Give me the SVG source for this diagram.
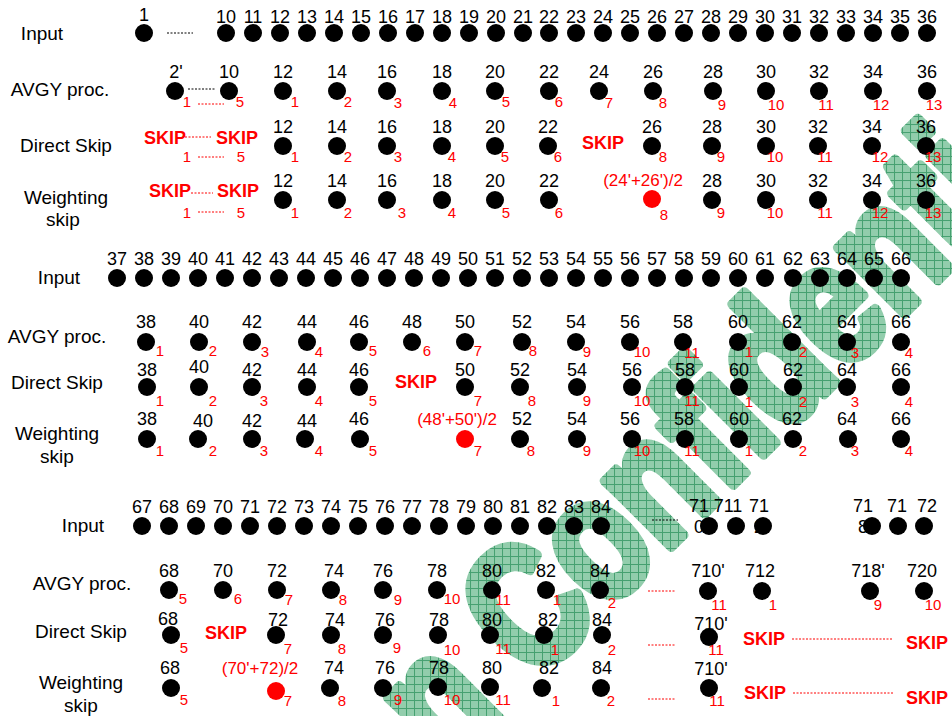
<svg xmlns="http://www.w3.org/2000/svg" width="952" height="716" viewBox="0 0 952 716">
<style>
text{font-family:"Liberation Sans",Arial,sans-serif}
.l{font-size:19px;fill:#000;text-anchor:middle}
.n{font-size:18px;fill:#000;text-anchor:middle}
.s{font-size:15px;fill:#f00;text-anchor:middle}
.k{font-size:18px;font-weight:bold;fill:#f00;text-anchor:middle}
.f{font-size:17px;fill:#f00;text-anchor:middle}
.d{fill:#000}
.r{fill:#f00}
.bl{stroke:#000;stroke-width:1;stroke-dasharray:2 1.5;fill:none}
.rl{stroke:#f00;stroke-width:1;stroke-dasharray:2 1.5;fill:none}
.wm{font-size:138px;font-weight:bold;fill:url(#hatch);stroke:url(#hatch);stroke-width:8;stroke-linejoin:round}
</style>
<defs>
<pattern id="hatch" width="8" height="8" patternUnits="userSpaceOnUse" patternTransform="scale(1,0.781) rotate(45)">
<rect width="8" height="8" fill="#92cdac"/>
<path d="M0 0.5H8M0.5 0V8" stroke="#45a070" stroke-width="1"/>
</pattern>
</defs>
<rect width="952" height="716" fill="#fff"/>
<g id="watermark" transform="translate(534,684) rotate(-45) scale(1,1.28)"><text class="wm" x="-123" y="0">n Confidential</text></g>

<g id="labels">
<text class="l" x="42" y="40">Input</text>
<text class="l" x="60" y="96">AVGY proc.</text>
<text class="l" x="66" y="152">Direct Skip</text>
<text class="l" x="66" y="204">Weighting</text>
<text class="l" x="63" y="226">skip</text>
<text class="l" x="59" y="284">Input</text>
<text class="l" x="57" y="343">AVGY proc.</text>
<text class="l" x="57" y="389">Direct Skip</text>
<text class="l" x="57" y="440">Weighting</text>
<text class="l" x="57" y="463">skip</text>
<text class="l" x="83" y="532">Input</text>
<text class="l" x="82" y="590">AVGY proc.</text>
<text class="l" x="81" y="638">Direct Skip</text>
<text class="l" x="81" y="689">Weighting</text>
<text class="l" x="81" y="712">skip</text>
</g>

<g id="connectors">
<path class="bl" d="M167 33H193"/>
<path class="bl" d="M188 89H215"/>
<path class="rl" d="M198 104H224"/>
<path class="rl" d="M185 137H211"/>
<path class="rl" d="M198 157H224"/>
<path class="rl" d="M191 193H213"/>
<path class="rl" d="M198 212H224"/>
<path class="bl" d="M652 520H678"/>
<path class="rl" d="M648 591H675"/>
<path class="rl" d="M648 645H675"/>
<path class="rl" d="M648 699H675"/>
<path class="rl" d="M792 639H893"/>
<path class="rl" d="M793 693H894"/>
</g>

<g id="input1">
<text class="n" x="144" y="21">1</text><circle class="d" cx="144" cy="33" r="9"/>
<text class="n" x="226" y="23">10</text><circle class="d" cx="226" cy="33" r="9"/>
<text class="n" x="253" y="23">11</text><circle class="d" cx="253" cy="33" r="9"/>
<text class="n" x="280" y="23">12</text><circle class="d" cx="280" cy="33" r="9"/>
<text class="n" x="307" y="23">13</text><circle class="d" cx="307" cy="33" r="9"/>
<text class="n" x="334" y="23">14</text><circle class="d" cx="334" cy="33" r="9"/>
<text class="n" x="361" y="23">15</text><circle class="d" cx="361" cy="33" r="9"/>
<text class="n" x="388" y="23">16</text><circle class="d" cx="388" cy="33" r="9"/>
<text class="n" x="415" y="23">17</text><circle class="d" cx="415" cy="33" r="9"/>
<text class="n" x="442" y="23">18</text><circle class="d" cx="442" cy="33" r="9"/>
<text class="n" x="469" y="23">19</text><circle class="d" cx="469" cy="33" r="9"/>
<text class="n" x="496" y="23">20</text><circle class="d" cx="496" cy="33" r="9"/>
<text class="n" x="523" y="23">21</text><circle class="d" cx="523" cy="33" r="9"/>
<text class="n" x="549" y="23">22</text><circle class="d" cx="549" cy="33" r="9"/>
<text class="n" x="576" y="23">23</text><circle class="d" cx="576" cy="33" r="9"/>
<text class="n" x="603" y="23">24</text><circle class="d" cx="603" cy="33" r="9"/>
<text class="n" x="630" y="23">25</text><circle class="d" cx="630" cy="33" r="9"/>
<text class="n" x="657" y="23">26</text><circle class="d" cx="657" cy="33" r="9"/>
<text class="n" x="684" y="23">27</text><circle class="d" cx="684" cy="33" r="9"/>
<text class="n" x="711" y="23">28</text><circle class="d" cx="711" cy="33" r="9"/>
<text class="n" x="738" y="23">29</text><circle class="d" cx="738" cy="33" r="9"/>
<text class="n" x="765" y="23">30</text><circle class="d" cx="765" cy="33" r="9"/>
<text class="n" x="792" y="23">31</text><circle class="d" cx="792" cy="33" r="9"/>
<text class="n" x="819" y="23">32</text><circle class="d" cx="819" cy="33" r="9"/>
<text class="n" x="846" y="23">33</text><circle class="d" cx="846" cy="33" r="9"/>
<text class="n" x="873" y="23">34</text><circle class="d" cx="873" cy="33" r="9"/>
<text class="n" x="900" y="23">35</text><circle class="d" cx="900" cy="33" r="9"/>
<text class="n" x="927" y="23">36</text><circle class="d" cx="927" cy="33" r="9"/>
</g>

<g id="avgy1">
<text class="n" x="176" y="78">2'</text><circle class="d" cx="175" cy="91" r="9"/><text class="s" x="187" y="107">1</text>
<text class="n" x="229" y="78">10</text><circle class="d" cx="229" cy="91" r="9"/><text class="s" x="240" y="107">5</text>
<text class="n" x="283" y="78">12</text><circle class="d" cx="283" cy="91" r="9"/><text class="s" x="295" y="107">1</text>
<text class="n" x="337" y="78">14</text><circle class="d" cx="337" cy="91" r="9"/><text class="s" x="348" y="107">2</text>
<text class="n" x="387" y="78">16</text><circle class="d" cx="387" cy="91" r="9"/><text class="s" x="398" y="108">3</text>
<text class="n" x="442" y="78">18</text><circle class="d" cx="442" cy="91" r="9"/><text class="s" x="453" y="108">4</text>
<text class="n" x="495" y="78">20</text><circle class="d" cx="495" cy="91" r="9"/><text class="s" x="506" y="107">5</text>
<text class="n" x="549" y="78">22</text><circle class="d" cx="549" cy="91" r="9"/><text class="s" x="559" y="107">6</text>
<text class="n" x="599" y="78">24</text><circle class="d" cx="599" cy="91" r="9"/><text class="s" x="609" y="108">7</text>
<text class="n" x="653" y="78">26</text><circle class="d" cx="653" cy="91" r="9"/><text class="s" x="663" y="108">8</text>
<text class="n" x="713" y="78">28</text><circle class="d" cx="713" cy="91" r="9"/><text class="s" x="722" y="110">9</text>
<text class="n" x="766" y="78">30</text><circle class="d" cx="766" cy="91" r="9"/><text class="s" x="776" y="110">10</text>
<text class="n" x="819" y="78">32</text><circle class="d" cx="819" cy="91" r="9"/><text class="s" x="826" y="110">11</text>
<text class="n" x="873" y="78">34</text><circle class="d" cx="873" cy="91" r="9"/><text class="s" x="881" y="110">12</text>
<text class="n" x="927" y="78">36</text><circle class="d" cx="927" cy="91" r="9"/><text class="s" x="934" y="110">13</text>
</g>

<g id="direct1">
<text class="k" x="165" y="144">SKIP</text><text class="k" x="237" y="144">SKIP</text>
<text class="s" x="187" y="162">1</text><text class="s" x="241" y="162">5</text>
<text class="n" x="283" y="133">12</text><circle class="d" cx="283" cy="146" r="9"/><text class="s" x="295" y="162">1</text>
<text class="n" x="337" y="133">14</text><circle class="d" cx="337" cy="146" r="9"/><text class="s" x="348" y="162">2</text>
<text class="n" x="387" y="133">16</text><circle class="d" cx="387" cy="146" r="9"/><text class="s" x="398" y="162">3</text>
<text class="n" x="442" y="133">18</text><circle class="d" cx="442" cy="146" r="9"/><text class="s" x="452" y="162">4</text>
<text class="n" x="495" y="133">20</text><circle class="d" cx="495" cy="146" r="9"/><text class="s" x="505" y="162">5</text>
<text class="n" x="548" y="133">22</text><circle class="d" cx="548" cy="146" r="9"/><text class="s" x="558" y="162">6</text>
<text class="k" x="603" y="149">SKIP</text>
<text class="n" x="652" y="133">26</text><circle class="d" cx="652" cy="146" r="9"/><text class="s" x="663" y="162">8</text>
<text class="n" x="712" y="133">28</text><circle class="d" cx="712" cy="146" r="9"/><text class="s" x="721" y="162">9</text>
<text class="n" x="766" y="133">30</text><circle class="d" cx="766" cy="146" r="9"/><text class="s" x="775" y="162">10</text>
<text class="n" x="818" y="133">32</text><circle class="d" cx="818" cy="146" r="9"/><text class="s" x="825" y="162">11</text>
<text class="n" x="872" y="133">34</text><circle class="d" cx="872" cy="146" r="9"/><text class="s" x="880" y="162">12</text>
<text class="n" x="926" y="133">36</text><circle class="d" cx="926" cy="146" r="9"/><text class="s" x="933" y="162">13</text>
</g>

<g id="weight1">
<text class="k" x="170" y="197">SKIP</text><text class="k" x="238" y="197">SKIP</text>
<text class="s" x="187" y="218">1</text><text class="s" x="241" y="218">5</text>
<text class="n" x="283" y="187">12</text><circle class="d" cx="283" cy="200" r="9"/><text class="s" x="295" y="218">1</text>
<text class="n" x="337" y="187">14</text><circle class="d" cx="337" cy="200" r="9"/><text class="s" x="348" y="218">2</text>
<text class="n" x="387" y="187">16</text><circle class="d" cx="387" cy="200" r="9"/><text class="s" x="402" y="218">3</text>
<text class="n" x="442" y="187">18</text><circle class="d" cx="442" cy="200" r="9"/><text class="s" x="452" y="218">4</text>
<text class="n" x="495" y="187">20</text><circle class="d" cx="495" cy="200" r="9"/><text class="s" x="506" y="218">5</text>
<text class="n" x="549" y="187">22</text><circle class="d" cx="549" cy="200" r="9"/><text class="s" x="559" y="218">6</text>
<text class="f" x="643" y="186">(24'+26')/2</text><circle class="r" cx="652" cy="199" r="9"/><text class="s" x="664" y="220">8</text>
<text class="n" x="712" y="187">28</text><circle class="d" cx="712" cy="200" r="9"/><text class="s" x="721" y="218">9</text>
<text class="n" x="766" y="187">30</text><circle class="d" cx="766" cy="200" r="9"/><text class="s" x="775" y="218">10</text>
<text class="n" x="818" y="187">32</text><circle class="d" cx="818" cy="200" r="9"/><text class="s" x="825" y="218">11</text>
<text class="n" x="872" y="187">34</text><circle class="d" cx="872" cy="200" r="9"/><text class="s" x="880" y="218">12</text>
<text class="n" x="926" y="187">36</text><circle class="d" cx="926" cy="200" r="9"/><text class="s" x="933" y="218">13</text>
</g>

<g id="input2">
<text class="n" x="117" y="265">37</text><circle class="d" cx="117" cy="278" r="9"/>
<text class="n" x="144" y="265">38</text><circle class="d" cx="144" cy="278" r="9"/>
<text class="n" x="171" y="265">39</text><circle class="d" cx="171" cy="278" r="9"/>
<text class="n" x="198" y="265">40</text><circle class="d" cx="198" cy="278" r="9"/>
<text class="n" x="225" y="265">41</text><circle class="d" cx="225" cy="278" r="9"/>
<text class="n" x="252" y="265">42</text><circle class="d" cx="252" cy="278" r="9"/>
<text class="n" x="279" y="265">43</text><circle class="d" cx="279" cy="278" r="9"/>
<text class="n" x="306" y="265">44</text><circle class="d" cx="306" cy="278" r="9"/>
<text class="n" x="333" y="265">45</text><circle class="d" cx="333" cy="278" r="9"/>
<text class="n" x="360" y="265">46</text><circle class="d" cx="360" cy="278" r="9"/>
<text class="n" x="387" y="265">47</text><circle class="d" cx="387" cy="278" r="9"/>
<text class="n" x="414" y="265">48</text><circle class="d" cx="414" cy="278" r="9"/>
<text class="n" x="441" y="265">49</text><circle class="d" cx="441" cy="278" r="9"/>
<text class="n" x="468" y="265">50</text><circle class="d" cx="468" cy="278" r="9"/>
<text class="n" x="495" y="265">51</text><circle class="d" cx="495" cy="278" r="9"/>
<text class="n" x="522" y="265">52</text><circle class="d" cx="522" cy="278" r="9"/>
<text class="n" x="549" y="265">53</text><circle class="d" cx="549" cy="278" r="9"/>
<text class="n" x="576" y="265">54</text><circle class="d" cx="576" cy="278" r="9"/>
<text class="n" x="603" y="265">55</text><circle class="d" cx="603" cy="278" r="9"/>
<text class="n" x="630" y="265">56</text><circle class="d" cx="630" cy="278" r="9"/>
<text class="n" x="657" y="265">57</text><circle class="d" cx="657" cy="278" r="9"/>
<text class="n" x="684" y="265">58</text><circle class="d" cx="684" cy="278" r="9"/>
<text class="n" x="711" y="265">59</text><circle class="d" cx="711" cy="278" r="9"/>
<text class="n" x="738" y="265">60</text><circle class="d" cx="738" cy="278" r="9"/>
<text class="n" x="765" y="265">61</text><circle class="d" cx="765" cy="278" r="9"/>
<text class="n" x="793" y="265">62</text><circle class="d" cx="793" cy="278" r="9"/>
<text class="n" x="820" y="265">63</text><circle class="d" cx="820" cy="278" r="9"/>
<text class="n" x="847" y="265">64</text><circle class="d" cx="847" cy="278" r="9"/>
<text class="n" x="874" y="265">65</text><circle class="d" cx="874" cy="278" r="9"/>
<text class="n" x="901" y="265">66</text><circle class="d" cx="901" cy="278" r="9"/>
</g>

<g id="avgy2">
<text class="n" x="146" y="328">38</text><circle class="d" cx="146" cy="342" r="9"/><text class="s" x="160" y="356">1</text>
<text class="n" x="199" y="328">40</text><circle class="d" cx="199" cy="342" r="9"/><text class="s" x="213" y="356">2</text>
<text class="n" x="252" y="328">42</text><circle class="d" cx="252" cy="342" r="9"/><text class="s" x="265" y="357">3</text>
<text class="n" x="307" y="328">44</text><circle class="d" cx="307" cy="342" r="9"/><text class="s" x="319" y="357">4</text>
<text class="n" x="359" y="328">46</text><circle class="d" cx="359" cy="342" r="9"/><text class="s" x="373" y="356">5</text>
<text class="n" x="412" y="328">48</text><circle class="d" cx="412" cy="342" r="9"/><text class="s" x="427" y="356">6</text>
<text class="n" x="465" y="328">50</text><circle class="d" cx="465" cy="342" r="9"/><text class="s" x="478" y="356">7</text>
<text class="n" x="522" y="328">52</text><circle class="d" cx="522" cy="342" r="9"/><text class="s" x="533" y="356">8</text>
<text class="n" x="576" y="328">54</text><circle class="d" cx="576" cy="342" r="9"/><text class="s" x="587" y="357">9</text>
<text class="n" x="630" y="328">56</text><circle class="d" cx="630" cy="342" r="9"/><text class="s" x="642" y="357">10</text>
<text class="n" x="683" y="328">58</text><circle class="d" cx="683" cy="342" r="9"/><text class="s" x="692" y="358">11</text>
<text class="n" x="738" y="328">60</text><circle class="d" cx="738" cy="342" r="9"/><text class="s" x="749" y="357">1</text>
<text class="n" x="792" y="328">62</text><circle class="d" cx="792" cy="342" r="9"/><text class="s" x="803" y="357">2</text>
<text class="n" x="847" y="328">64</text><circle class="d" cx="847" cy="342" r="9"/><text class="s" x="855" y="358">3</text>
<text class="n" x="901" y="328">66</text><circle class="d" cx="901" cy="342" r="9"/><text class="s" x="909" y="358">4</text>
</g>

<g id="direct2">
<text class="n" x="147" y="376">38</text><circle class="d" cx="147" cy="387" r="9"/><text class="s" x="160" y="406">1</text>
<text class="n" x="199" y="373">40</text><circle class="d" cx="199" cy="387" r="9"/><text class="s" x="213" y="406">2</text>
<text class="n" x="252" y="376">42</text><circle class="d" cx="252" cy="387" r="9"/><text class="s" x="264" y="406">3</text>
<text class="n" x="307" y="376">44</text><circle class="d" cx="307" cy="387" r="9"/><text class="s" x="319" y="406">4</text>
<text class="n" x="359" y="376">46</text><circle class="d" cx="359" cy="387" r="9"/><text class="s" x="373" y="406">5</text>
<text class="k" x="416" y="388">SKIP</text>
<text class="n" x="465" y="376">50</text><circle class="d" cx="465" cy="387" r="9"/><text class="s" x="478" y="406">7</text>
<text class="n" x="520" y="376">52</text><circle class="d" cx="520" cy="387" r="9"/><text class="s" x="532" y="406">8</text>
<text class="n" x="577" y="376">54</text><circle class="d" cx="577" cy="387" r="9"/><text class="s" x="587" y="406">9</text>
<text class="n" x="632" y="376">56</text><circle class="d" cx="632" cy="387" r="9"/><text class="s" x="642" y="406">10</text>
<text class="n" x="685" y="376">58</text><circle class="d" cx="685" cy="387" r="9"/><text class="s" x="692" y="406">11</text>
<text class="n" x="739" y="376">60</text><circle class="d" cx="739" cy="387" r="9"/><text class="s" x="749" y="407">1</text>
<text class="n" x="793" y="376">62</text><circle class="d" cx="793" cy="387" r="9"/><text class="s" x="803" y="407">2</text>
<text class="n" x="847" y="376">64</text><circle class="d" cx="847" cy="387" r="9"/><text class="s" x="855" y="407">3</text>
<text class="n" x="901" y="376">66</text><circle class="d" cx="901" cy="387" r="9"/><text class="s" x="909" y="407">4</text>
</g>

<g id="weight2">
<text class="n" x="147" y="425">38</text><circle class="d" cx="147" cy="439" r="9"/><text class="s" x="160" y="456">1</text>
<text class="n" x="203" y="427">40</text><circle class="d" cx="198" cy="439" r="9"/><text class="s" x="213" y="456">2</text>
<text class="n" x="252" y="427">42</text><circle class="d" cx="252" cy="439" r="9"/><text class="s" x="264" y="456">3</text>
<text class="n" x="307" y="427">44</text><circle class="d" cx="305" cy="439" r="9"/><text class="s" x="319" y="456">4</text>
<text class="n" x="359" y="425">46</text><circle class="d" cx="360" cy="439" r="9"/><text class="s" x="373" y="456">5</text>
<text class="f" x="457" y="425">(48'+50')/2</text><circle class="r" cx="465" cy="439" r="9"/><text class="s" x="478" y="456">7</text>
<text class="n" x="522" y="425">52</text><circle class="d" cx="520" cy="439" r="9"/><text class="s" x="531" y="456">8</text>
<text class="n" x="577" y="425">54</text><circle class="d" cx="577" cy="439" r="9"/><text class="s" x="587" y="456">9</text>
<text class="n" x="630" y="425">56</text><circle class="d" cx="632" cy="439" r="9"/><text class="s" x="642" y="456">10</text>
<text class="n" x="684" y="425">58</text><circle class="d" cx="685" cy="439" r="9"/><text class="s" x="692" y="456">11</text>
<text class="n" x="739" y="425">60</text><circle class="d" cx="739" cy="439" r="9"/><text class="s" x="749" y="456">1</text>
<text class="n" x="792" y="425">62</text><circle class="d" cx="793" cy="439" r="9"/><text class="s" x="803" y="456">2</text>
<text class="n" x="847" y="425">64</text><circle class="d" cx="848" cy="439" r="9"/><text class="s" x="855" y="456">3</text>
<text class="n" x="901" y="425">66</text><circle class="d" cx="901" cy="439" r="9"/><text class="s" x="909" y="456">4</text>
</g>

<g id="input3">
<text class="n" x="142" y="513">67</text><circle class="d" cx="142" cy="526" r="9"/>
<text class="n" x="169" y="513">68</text><circle class="d" cx="169" cy="526" r="9"/>
<text class="n" x="196" y="513">69</text><circle class="d" cx="196" cy="526" r="9"/>
<text class="n" x="223" y="513">70</text><circle class="d" cx="223" cy="526" r="9"/>
<text class="n" x="250" y="513">71</text><circle class="d" cx="250" cy="526" r="9"/>
<text class="n" x="277" y="513">72</text><circle class="d" cx="277" cy="526" r="9"/>
<text class="n" x="304" y="513">73</text><circle class="d" cx="304" cy="526" r="9"/>
<text class="n" x="331" y="513">74</text><circle class="d" cx="331" cy="526" r="9"/>
<text class="n" x="358" y="513">75</text><circle class="d" cx="358" cy="526" r="9"/>
<text class="n" x="385" y="513">76</text><circle class="d" cx="385" cy="526" r="9"/>
<text class="n" x="412" y="513">77</text><circle class="d" cx="412" cy="526" r="9"/>
<text class="n" x="439" y="513">78</text><circle class="d" cx="439" cy="526" r="9"/>
<text class="n" x="466" y="513">79</text><circle class="d" cx="466" cy="526" r="9"/>
<text class="n" x="493" y="513">80</text><circle class="d" cx="493" cy="526" r="9"/>
<text class="n" x="520" y="513">81</text><circle class="d" cx="520" cy="526" r="9"/>
<text class="n" x="547" y="513">82</text><circle class="d" cx="547" cy="526" r="9"/>
<text class="n" x="574" y="513">83</text><circle class="d" cx="574" cy="526" r="9"/>
<text class="n" x="601" y="513">84</text><circle class="d" cx="601" cy="526" r="9"/>
<text class="n" x="699" y="512">71<tspan x="699" y="533">0</tspan></text><circle class="d" cx="709" cy="526" r="9"/>
<text class="n" x="728" y="512">711</text><circle class="d" cx="736" cy="526" r="9"/>
<text class="n" x="759" y="512">71<tspan x="759" y="533">2</tspan></text><circle class="d" cx="763" cy="526" r="9"/>
<text class="n" x="863" y="512">71<tspan x="863" y="533">8</tspan></text><circle class="d" cx="872" cy="526" r="9"/>
<text class="n" x="897" y="512">71<tspan x="897" y="533">9</tspan></text><circle class="d" cx="898" cy="526" r="9"/>
<text class="n" x="927" y="512">72<tspan x="927" y="533">0</tspan></text><circle class="d" cx="924" cy="526" r="9"/>
</g>

<g id="avgy3">
<text class="n" x="169" y="577">68</text><circle class="d" cx="169" cy="590" r="9"/><text class="s" x="183" y="604">5</text>
<text class="n" x="223" y="577">70</text><circle class="d" cx="223" cy="590" r="9"/><text class="s" x="238" y="604">6</text>
<text class="n" x="277" y="577">72</text><circle class="d" cx="277" cy="590" r="9"/><text class="s" x="289" y="605">7</text>
<text class="n" x="334" y="577">74</text><circle class="d" cx="331" cy="590" r="9"/><text class="s" x="343" y="605">8</text>
<text class="n" x="383" y="577">76</text><circle class="d" cx="383" cy="590" r="9"/><text class="s" x="398" y="605">9</text>
<text class="n" x="437" y="577">78</text><circle class="d" cx="437" cy="590" r="9"/><text class="s" x="452" y="604">10</text>
<text class="n" x="492" y="577">80</text><circle class="d" cx="492" cy="590" r="9"/><text class="s" x="503" y="605">11</text>
<text class="n" x="546" y="577">82</text><circle class="d" cx="546" cy="590" r="9"/><text class="s" x="557" y="605">1</text>
<text class="n" x="600" y="577">84</text><circle class="d" cx="600" cy="590" r="9"/><text class="s" x="612" y="608">2</text>
<text class="n" x="708" y="577">710'</text><circle class="d" cx="708" cy="591" r="9"/><text class="s" x="719" y="610">11</text>
<text class="n" x="760" y="577">712</text><circle class="d" cx="762" cy="591" r="9"/><text class="s" x="773" y="610">1</text>
<text class="n" x="868" y="577">718'</text><circle class="d" cx="870" cy="591" r="9"/><text class="s" x="878" y="610">9</text>
<text class="n" x="922" y="577">720</text><circle class="d" cx="924" cy="591" r="9"/><text class="s" x="933" y="610">10</text>
</g>

<g id="direct3">
<text class="n" x="168" y="625">68</text><circle class="d" cx="171" cy="635" r="9"/><text class="s" x="184" y="653">5</text>
<text class="k" x="226" y="639">SKIP</text>
<text class="n" x="278" y="626">72</text><circle class="d" cx="276" cy="635" r="9"/><text class="s" x="288" y="654">7</text>
<text class="n" x="335" y="626">74</text><circle class="d" cx="331" cy="635" r="9"/><text class="s" x="342" y="654">8</text>
<text class="n" x="385" y="626">76</text><circle class="d" cx="383" cy="635" r="9"/><text class="s" x="397" y="653">9</text>
<text class="n" x="439" y="626">78</text><circle class="d" cx="438" cy="635" r="9"/><text class="s" x="452" y="655">10</text>
<text class="n" x="492" y="626">80</text><circle class="d" cx="490" cy="635" r="9"/><text class="s" x="503" y="654">11</text>
<text class="n" x="548" y="626">82</text><circle class="d" cx="544" cy="635" r="9"/><text class="s" x="555" y="655">1</text>
<text class="n" x="602" y="626">84</text><circle class="d" cx="602" cy="635" r="9"/><text class="s" x="612" y="655">2</text>
<text class="n" x="711" y="630">710'</text><circle class="d" cx="709" cy="637" r="9"/><text class="s" x="716" y="655">11</text>
<text class="k" x="764" y="645">SKIP</text><text class="k" x="927" y="649">SKIP</text>
</g>

<g id="weight3">
<text class="n" x="170" y="674">68</text><circle class="d" cx="171" cy="688" r="9"/><text class="s" x="184" y="705">5</text>
<text class="f" x="260" y="674">(70'+72)/2</text><circle class="r" cx="276" cy="691" r="9"/><text class="s" x="288" y="706">7</text>
<text class="n" x="334" y="674">74</text><circle class="d" cx="330" cy="688" r="9"/><text class="s" x="342" y="706">8</text>
<text class="n" x="385" y="674">76</text><circle class="d" cx="383" cy="688" r="9"/><text class="s" x="398" y="705">9</text>
<text class="n" x="439" y="674">78</text><circle class="d" cx="438" cy="687" r="9"/><text class="s" x="452" y="705">10</text>
<text class="n" x="492" y="674">80</text><circle class="d" cx="490" cy="687" r="9"/><text class="s" x="503" y="705">11</text>
<text class="n" x="549" y="674">82</text><circle class="d" cx="542" cy="688" r="9"/><text class="s" x="556" y="706">1</text>
<text class="n" x="602" y="674">84</text><circle class="d" cx="601" cy="688" r="9"/><text class="s" x="611" y="706">2</text>
<text class="n" x="711" y="675">710'</text><circle class="d" cx="709" cy="688" r="9"/><text class="s" x="717" y="706">11</text>
<text class="k" x="765" y="699">SKIP</text><text class="k" x="927" y="704">SKIP</text>
</g>
</svg>
